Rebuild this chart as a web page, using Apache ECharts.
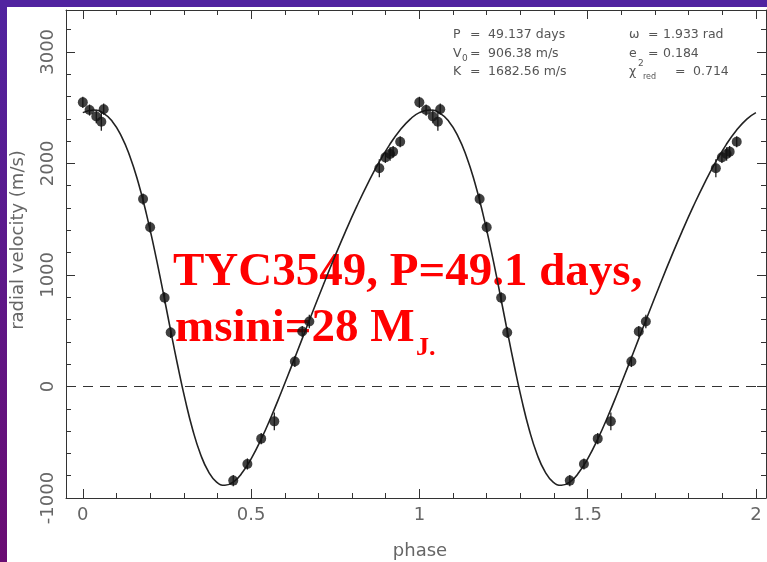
<!DOCTYPE html>
<html><head><meta charset="utf-8">
<script src="https://cdn.jsdelivr.net/npm/echarts@6/dist/echarts.min.js"></script>
<style>html,body{margin:0;padding:0;background:#fff;}#c{width:767px;height:562px;}</style>
</head><body><div id="c"></div>
<script>
// Keplerian fit curve (phase, radial velocity m/s)
const curvePhase = [0, 0.0321, 0.0598, 0.0876, 0.1141, 0.1397, 0.1645, 0.1887, 0.2123, 0.2355, 0.2583, 0.281,
  0.3037, 0.3265, 0.3497, 0.3733, 0.3975, 0.4223, 0.4479, 0.4744, 0.5017, 0.5299, 0.559, 0.589, 0.6197, 0.6511,
  0.683, 0.7154, 0.7481, 0.781, 0.8139, 0.8466, 0.879, 0.9109, 0.9423, 0.973,
  1.0, 1.0321, 1.0598, 1.0876, 1.1141, 1.1397, 1.1645, 1.1887, 1.2123, 1.2355, 1.2583, 1.281,
  1.3037, 1.3265, 1.3497, 1.3733, 1.3975, 1.4223, 1.4479, 1.4744, 1.5017, 1.5299, 1.559, 1.589, 1.6197, 1.6511,
  1.683, 1.7154, 1.7481, 1.781, 1.8139, 1.8466, 1.879, 1.9109, 1.9423, 1.973, 2.0];
const curveVel = [2455, 2479, 2453, 2376, 2247, 2064, 1830, 1550, 1233, 892, 542, 201,
  -114, -388, -607, -764, -857, -886, -855, -770, -640, -473, -276, -56, 178, 422,
  670, 917, 1159, 1393, 1614, 1819, 2004, 2164, 2297, 2397,
  2455, 2479, 2453, 2376, 2247, 2064, 1830, 1550, 1233, 892, 542, 201,
  -114, -388, -607, -764, -857, -886, -855, -770, -640, -473, -276, -56, 178, 422,
  670, 917, 1159, 1393, 1614, 1819, 2004, 2164, 2297, 2397, 2455];

// measured radial velocities (plotted over two phases)
const pointPhase = [0.000, 0.020, 0.040, 0.055, 0.062, 0.179, 0.200, 0.243, 0.261, 0.447, 0.489, 0.530, 0.569, 0.630, 0.652, 0.673, 0.881, 0.899, 0.913, 0.922, 0.943,
  1.000, 1.020, 1.040, 1.055, 1.062, 1.179, 1.200, 1.243, 1.261, 1.447, 1.489, 1.530, 1.569, 1.630, 1.652, 1.673, 1.881, 1.899, 1.913, 1.922, 1.943];
const pointVel = [2547, 2478, 2420, 2373, 2486, 1680, 1427, 795, 484, -844, -695, -468, -313, 224, 493, 582, 1956, 2054, 2084, 2105, 2194,
  2547, 2478, 2420, 2373, 2486, 1680, 1427, 795, 484, -844, -695, -468, -313, 224, 493, 582, 1956, 2054, 2084, 2105, 2194];
const pointErr = [50, 50, 60, 80, 50, 50, 50, 50, 50, 50, 50, 50, 80, 50, 50, 60, 80, 50, 60, 50, 50,
  50, 50, 60, 80, 50, 50, 50, 50, 50, 50, 50, 50, 80, 50, 50, 60, 80, 50, 60, 50, 50];

const xMajorTicks = [0, 0.5, 1, 1.5, 2];
const xMinorTicks = [0.1, 0.2, 0.3, 0.4, 0.6, 0.7, 0.8, 0.9, 1.1, 1.2, 1.3, 1.4, 1.6, 1.7, 1.8, 1.9];
const yTickLabels = [-1000, 0, 1000, 2000, 3000];

const statNamesL = ['P', 'V', 'K'];
const statValuesL = ['49.137 days', '906.38 m/s', '1682.56 m/s'];
const statNamesR = ['\u03c9', 'e', '\u03c7'];
const statValuesR = ['1.933 rad', '0.184', '0.714'];
const titleLine1 = 'TYC3549, P=49.1 days,';
const titleLine2 = 'msini=28 M';
const titleSub = 'J.';

const chart = echarts.init(document.getElementById('c'), null, {renderer: 'canvas'});
const axisColor = '#333';
const labelStyle = {fontFamily: 'DejaVu Sans', fontSize: 18, color: '#666'};

function xAxisDef(position, ticks, len, withLine, withLabels) {
  return {
    type: 'value', min: -0.05, max: 2.03, position: position,
    axisLine: {show: withLine, onZero: false, lineStyle: {color: axisColor, width: 1}},
    axisTick: {show: true, inside: true, length: len, customValues: ticks, lineStyle: {color: axisColor}},
    axisLabel: withLabels ? Object.assign({show: true, margin: 8, customValues: ticks, formatter: v => String(v)}, labelStyle) : {show: false},
    minorTick: {show: false}, splitLine: {show: false}, minorSplitLine: {show: false}
  };
}
const yBase = {
  type: 'value', min: -1000, max: 3375, interval: 1000,
  axisLine: {show: true, onZero: false, lineStyle: {color: axisColor, width: 1}},
  axisTick: {show: true, inside: true, length: 9, lineStyle: {color: axisColor}},
  minorTick: {show: true, splitNumber: 5, length: 5, lineStyle: {color: axisColor}},
  splitLine: {show: false}, minorSplitLine: {show: false}
};

const statText = (x, y, t, size) => ({type: 'text', x: x, y: y, silent: true,
  style: {text: t, font: (size || 12.5) + 'px "DejaVu Sans"', fill: '#555', align: 'left', verticalAlign: 'middle'}});
const rowsY = [35, 53.5, 72];
const graphics = [
  {type: 'rect', shape: {x: 0, y: 0, width: 7, height: 562}, silent: true,
    style: {fill: new echarts.graphic.LinearGradient(0, 0, 0, 1, [{offset: 0, color: '#50239f'}, {offset: 1, color: '#6a0c72'}])}},
  {type: 'rect', shape: {x: 0, y: 0, width: 767, height: 7}, silent: true, style: {fill: '#5123a0'}},
  {type: 'text', x: 18, y: 240, rotation: Math.PI / 2, silent: true,
    style: {text: 'radial velocity (m/s)', font: '18px "DejaVu Sans"', fill: '#666', align: 'center', verticalAlign: 'middle'}},
  {type: 'text', x: 420, y: 551, silent: true,
    style: {text: 'phase', font: '18px "DejaVu Sans"', fill: '#666', align: 'center', verticalAlign: 'middle'}},
  {type: 'text', x: 173, y: 273, silent: true,
    style: {text: titleLine1, font: 'bold 47px "Liberation Serif"', fill: '#ff0000', align: 'left', verticalAlign: 'middle'}},
  {type: 'text', x: 175, y: 329, silent: true,
    style: {text: titleLine2, font: 'bold 47px "Liberation Serif"', fill: '#ff0000', align: 'left', verticalAlign: 'middle'}},
  {type: 'text', x: 416, y: 348, silent: true,
    style: {text: titleSub, font: 'bold 26px "Liberation Serif"', fill: '#ff0000', align: 'left', verticalAlign: 'middle'}}
];
for (let i = 0; i < 3; i++) {
  graphics.push(statText(453, rowsY[i], statNamesL[i]));
  graphics.push(statText(470, rowsY[i], '='));
  graphics.push(statText(488, rowsY[i], statValuesL[i]));
  graphics.push(statText(629, rowsY[i], statNamesR[i]));
  graphics.push(statText(i === 2 ? 675 : 648, rowsY[i], '='));
  graphics.push(statText(i === 2 ? 693 : 663, rowsY[i], statValuesR[i]));
}
graphics.push(statText(462, 59, '0', 9));
graphics.push(statText(638, 64, '2', 9));
graphics.push(statText(643, 77, 'red', 8));

chart.setOption({
  animation: false,
  backgroundColor: '#ffffff',
  grid: {left: 66, top: 10, width: 700, height: 488, containLabel: false, outerBoundsMode: 'none'},
  xAxis: [
    xAxisDef('bottom', xMajorTicks, 9, true, true),
    xAxisDef('bottom', xMinorTicks, 5, false, false),
    xAxisDef('top', xMajorTicks, 9, true, false),
    xAxisDef('top', xMinorTicks, 5, false, false)
  ],
  yAxis: [
    Object.assign({}, yBase, {position: 'left',
      axisLabel: Object.assign({show: true, rotate: 90, margin: 9,
        formatter: v => yTickLabels.indexOf(v) >= 0 ? String(v) : ''}, labelStyle)}),
    Object.assign({}, yBase, {position: 'right', axisLabel: {show: false}})
  ],
  graphic: graphics,
  series: [
    {
      type: 'line', xAxisIndex: 0, yAxisIndex: 0, showSymbol: false, smooth: true, silent: true,
      data: curvePhase.map((p, i) => [p, curveVel[i]]),
      lineStyle: {color: '#222', width: 1.6}, z: 3,
      markLine: {silent: true, symbol: ['none', 'none'], label: {show: false},
        lineStyle: {color: '#333', width: 1.2, type: [10, 7]}, data: [{yAxis: 0}]}
    },
    {
      type: 'custom', xAxisIndex: 0, yAxisIndex: 0, silent: true, z: 4,
      data: pointPhase.map((p, i) => [p, pointVel[i] - pointErr[i], pointVel[i] + pointErr[i]]),
      renderItem: (params, api) => {
        const a = api.coord([api.value(0), api.value(1)]);
        const b = api.coord([api.value(0), api.value(2)]);
        return {type: 'line', shape: {x1: a[0], y1: a[1], x2: b[0], y2: b[1]}, style: {stroke: '#222', lineWidth: 1.3}};
      }
    },
    {
      type: 'scatter', xAxisIndex: 0, yAxisIndex: 0, silent: true, z: 5,
      symbol: 'circle', symbolSize: 10,
      itemStyle: {color: '#111'},
      data: pointPhase.map((p, i) => [p, pointVel[i]])
    }
  ]
});
</script></body></html>
